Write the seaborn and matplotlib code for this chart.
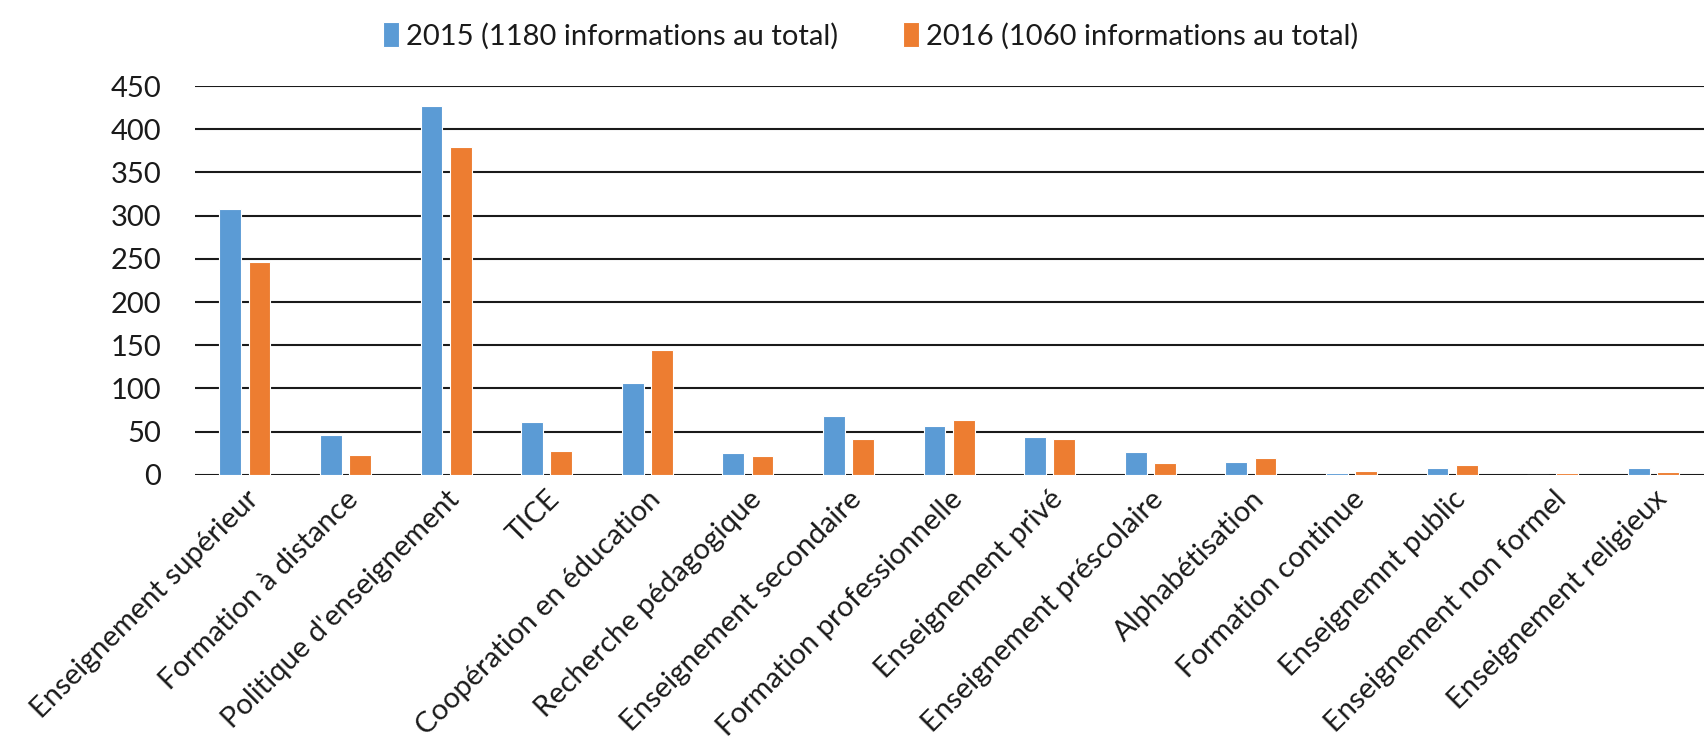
import pandas as pd
import seaborn as sns
import matplotlib.pyplot as plt

categories = ["Enseignement supérieur", "Formation à distance", "Politique d'enseignement",
              "TICE", "Coopération en éducation", "Recherche pédagogique",
              "Enseignement secondaire", "Formation professionnelle", "Enseignement privé",
              "Enseignement préscolaire", "Alphabétisation", "Formation continue",
              "Enseignemnt public", "Enseignement non formel", "Enseignement religieux"]
values_2015 = [308, 46, 427, 61, 106, 25, 68, 57, 44, 26, 15, 2, 8, 0, 8]
values_2016 = [246, 23, 379, 28, 145, 22, 41, 64, 41, 14, 20, 5, 12, 2, 3]
series = ["2015 (1180 informations au total)", "2016 (1060 informations au total)"]
y_ticks = [0, 50, 100, 150, 200, 250, 300, 350, 400, 450]

df = pd.DataFrame({
    "categorie": categories * 2,
    "valeur": values_2015 + values_2016,
    "annee": [series[0]] * len(categories) + [series[1]] * len(categories),
})

sns.set_style("white")
plt.rcParams['font.family'] = ['Lato', 'DejaVu Sans']

fig = plt.figure(figsize=(17.07, 7.55), dpi=100)
ax = fig.add_axes([0.114, 0.371, 0.884, 0.515])

sns.barplot(data=df, x="categorie", y="valeur", hue="annee",
            palette=["#5B9BD5", "#ED7D31"], saturation=1, width=0.58, gap=0.25,
            edgecolor="white", linewidth=0.8, ax=ax, zorder=3)

ax.set_ylim(0, 450)
ax.set_xlim(-0.5, len(categories) - 0.5)
ax.set_yticks(y_ticks)
ax.yaxis.grid(True, color="#1a1a1a", linewidth=1.5, zorder=0)
ax.set_axisbelow(True)
for s in ax.spines.values():
    s.set_visible(False)
ax.set_xlabel("")
ax.set_ylabel("")
ax.tick_params(axis="y", length=0, pad=24, labelsize=21, labelcolor="#1a1a1a")
ax.tick_params(axis="x", length=0, pad=8, labelsize=21, labelcolor="#1a1a1a")
plt.setp(ax.get_xticklabels(), rotation=45, ha="right", va="top",
         rotation_mode="anchor")

ax.legend(loc="upper center", bbox_to_anchor=(0.51, 1.005), bbox_transform=fig.transFigure,
          ncol=2, frameon=False, fontsize=21, handlelength=0.55, handleheight=0.9,
          handletextpad=0.25, columnspacing=2.2, labelcolor="#1a1a1a")

fig.savefig("out.png", dpi=100)
